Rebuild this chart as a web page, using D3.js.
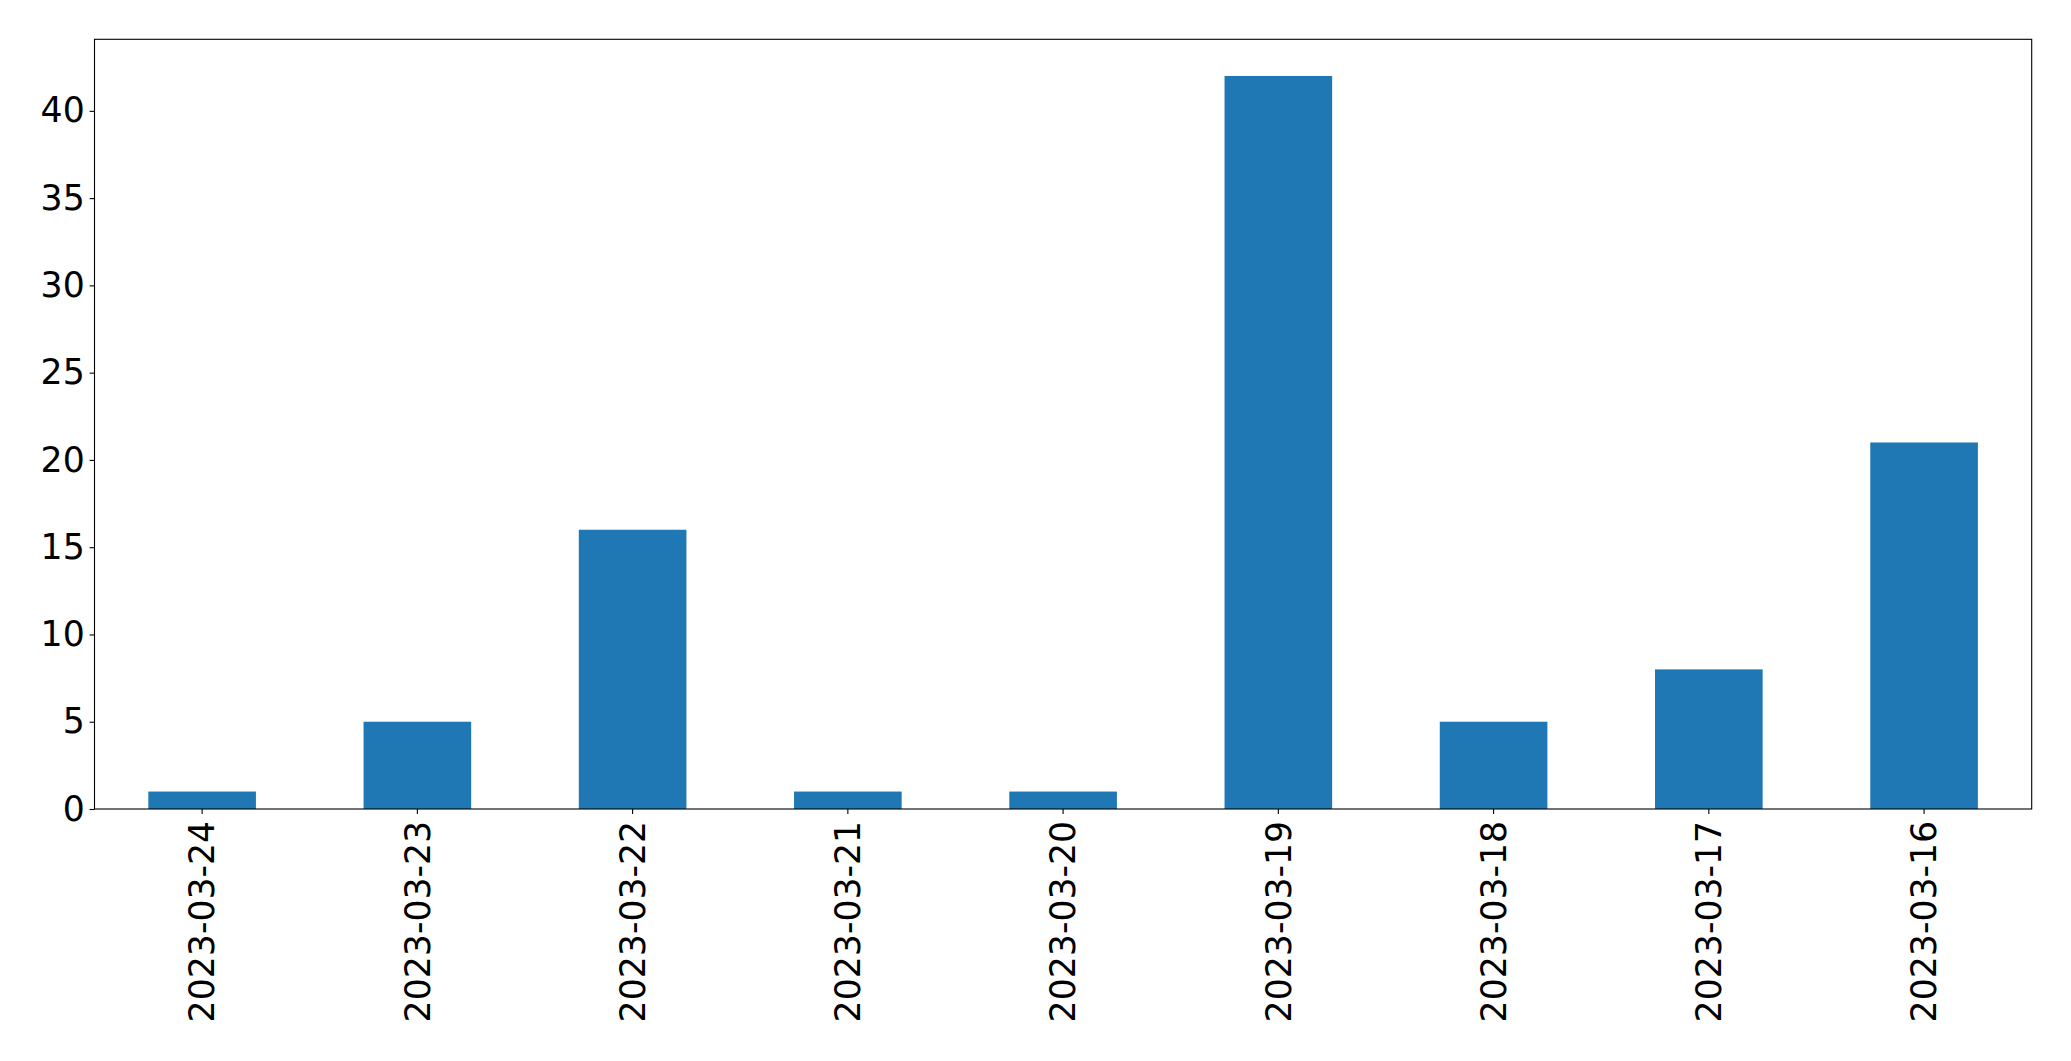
<!DOCTYPE html>
<html><head><meta charset="utf-8">
<script src="https://cdn.jsdelivr.net/npm/d3@7"></script>
<style>body{margin:0;background:#fff;} svg{display:block;}</style>
</head><body>
<svg id="chart" width="2071" height="1061"></svg>
<script>
const categories = ["2023-03-24","2023-03-23","2023-03-22","2023-03-21","2023-03-20","2023-03-19","2023-03-18","2023-03-17","2023-03-16"];
const values = [1,5,16,1,1,42,5,8,21];
const yTicks = [0,5,10,15,20,25,30,35,40];

const W = 2071, H = 1061;
const m = {left:94.5, right:W-2031.7, top:39.3, bottom:H-809};
const svg = d3.select("#chart");
const font = "DejaVu Sans, sans-serif";
const fs = 34.7;

const x = d3.scaleBand().domain(categories).range([m.left, W-m.right]).paddingInner(0.5).paddingOuter(0.25);
const yMax = d3.max(values)*1.05;
const y = d3.scaleLinear().domain([0, yMax]).range([H-m.bottom, m.top]);

svg.append("g").selectAll("rect").data(values).join("rect")
  .attr("x",(d,i)=>x(categories[i]))
  .attr("width",x.bandwidth())
  .attr("y",d=>y(d))
  .attr("height",d=>y(0)-y(d))
  .attr("fill","#1f77b4");

const tickLen = 4.9, pad = 4.9;
const yAxis = svg.append("g").attr("transform",`translate(${m.left},0)`)
  .call(d3.axisLeft(y).tickValues(yTicks).tickSize(tickLen).tickPadding(pad).tickFormat(d3.format("d")));
yAxis.select(".domain").remove();
yAxis.selectAll("line").attr("stroke","#000").attr("stroke-width",1.1);
yAxis.selectAll("text").attr("font-family",font).attr("font-size",fs).attr("fill","#000");

const xAxis = svg.append("g").attr("transform",`translate(0,${H-m.bottom})`)
  .call(d3.axisBottom(x).tickSize(tickLen).tickPadding(pad));
xAxis.select(".domain").remove();
xAxis.selectAll("line").attr("stroke","#000").attr("stroke-width",1.1);
xAxis.selectAll("text")
  .attr("font-family",font).attr("font-size",fs).attr("fill","#000")
  .attr("text-anchor","end")
  .attr("transform",`translate(0,${tickLen+pad+2}) rotate(-90)`)
  .attr("x",0).attr("y",0).attr("dy","0.35em");

svg.append("rect").attr("x",m.left).attr("y",m.top)
  .attr("width",W-m.right-m.left).attr("height",H-m.bottom-m.top)
  .attr("fill","none").attr("stroke","#000").attr("stroke-width",1.1);
</script>
</body></html>
